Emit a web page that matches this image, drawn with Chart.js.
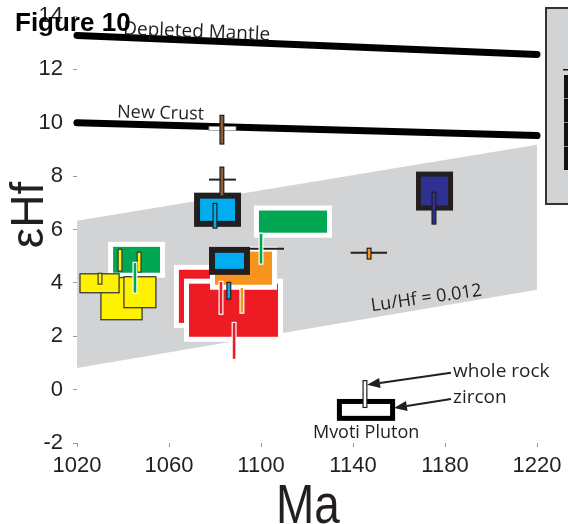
<!DOCTYPE html>
<html>
<head>
<meta charset="utf-8">
<script src="https://cdn.jsdelivr.net/npm/chart.js@4.4.1/dist/chart.umd.min.js"></script>
<style>
  html, body { margin: 0; padding: 0; background: #fff; overflow: hidden; }
  canvas { display: block; }
</style>
</head>
<body>
<canvas id="c" width="568" height="524"></canvas>
<script>
// ---- axis ticks ----
const AGE_TICKS = [1020, 1060, 1100, 1140, 1180, 1220];
const EHF_TICKS = [-2, 0, 2, 4, 6, 8, 10, 12, 14];

// ---- reference evolution lines (Ma, εHf) ----
const MODEL_AGE = [1020, 1220];
const DEPLETED_MANTLE = [13.27, 12.56];
const NEW_CRUST = [10.0, 9.52];
const LUHF_UPPER = [6.33, 9.18];
const LUHF_LOWER = [0.81, 3.74];

// ---- zircon fields, back to front: age range (Ma), εHf range ----
const zirconSuite = ['red', 'red', 'orange', 'green', 'yellow', 'yellow', 'yellow', 'green', 'cyan', 'cyan', 'navy', 'mvoti'];
const zirconAge = [[1064.3, 1095], [1068.7, 1107.4], [1080, 1104.8], [1035.7, 1056.1], [1030.4, 1048.3], [1021.3, 1038.3],
                   [1040.4, 1054.3], [1099.1, 1128.7], [1070.9, 1091.3], [1077.4, 1095.2], [1167.4, 1183.5], [1133, 1158.3]];
const zirconEhf = [[2.5, 4.49], [1.98, 3.97], [3.93, 5.17], [4.38, 5.35], [2.62, 4.2], [3.63, 4.34],
                   [3.07, 4.23], [5.88, 6.71], [6.1, 7.38], [4.3, 5.35], [6.71, 8.17], [-1.17, -0.35]];

// ---- age uncertainty bars: age range (Ma), εHf ----
const ageErrRange = [[1077.4, 1089.1], [1077.4, 1089.1], [1090.4, 1110], [1139, 1154.8]];
const ageErrEhf = [9.78, 7.87, 5.28, 5.13];

// ---- whole-rock values: age (Ma), εHf range ----
const rockSuite = ['yellow', 'yellow', 'yellow', 'greenOnField', 'cyan', 'brown', 'brown', 'redOnField', 'orangeOnField',
                   'redOnField', 'cyan', 'greenOnField', 'navy', 'orange', 'mvoti'];
const rockAge = [1030, 1038.7, 1047, 1045.2, 1080, 1083, 1083, 1082.6, 1091.7, 1088.3, 1086, 1100, 1175.2, 1147, 1145.2];
const rockEhf = [[3.93, 4.38], [4.42, 5.28], [4.38, 5.17], [3.59, 4.79], [6.03, 7.0], [9.18, 10.3], [7.23, 8.36], [2.8, 4.08],
                 [2.84, 3.85], [1.11, 2.54], [3.37, 4.04], [4.68, 5.88], [6.18, 7.42], [4.87, 5.32], [-0.69, 0.36]];

// ---- annotation anchors (Ma, εHf) ----
const LABELS = ['Depleted Mantle', 'New Crust', 'Lu/Hf = 0.012', 'whole rock', 'zircon', 'Mvoti Pluton'];
const LABEL_AGE = [1040, 1037.4, 1172.2, 1183.5, 1183.5, 1145.7];
const LABEL_EHF = [13.31, 10.2, 3.23, 0.66, -0.31, -1.62];
const ARROW_FROM = [[1182.6, 0.63], [1182.6, -0.35]];
const ARROW_TO = [[1146.1, 0.18], [1157.8, -0.69]];

// ---- styles ----
const INK = '#231f20';
const FIELD_STYLE = {
  red:    { fill: '#ed1c24', halo: 5 },
  orange: { fill: '#f7941d', halo: 5 },
  green:  { fill: '#00a651', halo: 5 },
  yellow: { fill: '#fff200', outline: '#3a3a3a' },
  cyan:   { fill: '#00aeef', frame: 6, frameColor: INK },
  navy:   { fill: '#2e3192', frame: 5, frameColor: INK },
  mvoti:  { fill: '#ffffff', frame: 5, frameColor: '#000' }
};
const BAR_STYLE = {
  yellow:        { fill: '#fff200', edge: '#3a3a3a' },
  greenOnField:  { fill: '#00a651', edge: '#ffffff' },
  cyan:          { fill: '#00aeef', edge: INK },
  brown:         { fill: '#8b5e3c', edge: INK },
  redOnField:    { fill: '#ed1c24', edge: '#ffffff' },
  orangeOnField: { fill: '#f7941d', edge: '#ffffff' },
  orange:        { fill: '#f7941d', edge: INK },
  navy:          { fill: '#2e3192', edge: INK },
  mvoti:         { fill: '#ffffff', edge: INK }
};
const ERR_STYLE = ['light', 'dark', 'dark', 'dark'];

const pts = ys => MODEL_AGE.map((a, i) => ({ x: a, y: ys[i] }));

const drawFields = {
  id: 'drawFields',
  afterDatasetsDraw(chart) {
    const { ctx, scales: { x, y } } = chart;
    const px = v => x.getPixelForValue(v);
    const py = v => y.getPixelForValue(v);
    ctx.save();

    // zircon fields
    zirconSuite.forEach((s, i) => {
      const st = FIELD_STYLE[s];
      let l = px(zirconAge[i][0]), r = px(zirconAge[i][1]);
      let t = py(zirconEhf[i][1]), b = py(zirconEhf[i][0]);
      if (st.halo) {
        ctx.fillStyle = '#ffffff';
        ctx.fillRect(l - st.halo, t - st.halo, r - l + 2 * st.halo, b - t + 2 * st.halo);
      }
      if (st.frame) {
        ctx.fillStyle = st.frameColor;
        ctx.fillRect(l, t, r - l, b - t);
        l += st.frame; r -= st.frame; t += st.frame; b -= st.frame;
      }
      ctx.fillStyle = st.fill;
      ctx.fillRect(l, t, r - l, b - t);
      if (st.outline) {
        ctx.strokeStyle = st.outline;
        ctx.lineWidth = 1.3;
        ctx.strokeRect(l, t, r - l, b - t);
      }
    });

    // age uncertainty bars
    ageErrRange.forEach((rg, i) => {
      const l = px(rg[0]), r = px(rg[1]), yy = py(ageErrEhf[i]);
      if (ERR_STYLE[i] === 'light') {
        ctx.fillStyle = '#ffffff';
        ctx.fillRect(l, yy - 2, r - l, 4);
        ctx.strokeStyle = '#9a9a9a';
        ctx.lineWidth = 0.8;
        ctx.strokeRect(l, yy - 2, r - l, 4);
      } else {
        ctx.strokeStyle = INK;
        ctx.lineWidth = 2;
        ctx.beginPath();
        ctx.moveTo(l, yy);
        ctx.lineTo(r, yy);
        ctx.stroke();
      }
    });

    // whole-rock bars
    rockSuite.forEach((s, i) => {
      const st = BAR_STYLE[s];
      const cx = px(rockAge[i]);
      const t = py(rockEhf[i][1]), b = py(rockEhf[i][0]);
      ctx.fillStyle = st.edge;
      ctx.fillRect(cx - 2.5, t, 5, b - t);
      ctx.fillStyle = st.fill;
      ctx.fillRect(cx - 1.3, t + 1.2, 2.6, b - t - 2.4);
    });

    // arrows to the legend labels
    ctx.strokeStyle = INK;
    ctx.fillStyle = INK;
    ctx.lineWidth = 2;
    ARROW_FROM.forEach((f, i) => {
      const x0 = px(f[0]), y0 = py(f[1]);
      const x1 = px(ARROW_TO[i][0]), y1 = py(ARROW_TO[i][1]);
      const ang = Math.atan2(y1 - y0, x1 - x0);
      const hl = 13, hw = 5;
      const bx = x1 - hl * Math.cos(ang), by = y1 - hl * Math.sin(ang);
      ctx.beginPath();
      ctx.moveTo(x0, y0);
      ctx.lineTo(bx, by);
      ctx.stroke();
      ctx.beginPath();
      ctx.moveTo(x1, y1);
      ctx.lineTo(bx + hw * Math.sin(ang), by - hw * Math.cos(ang));
      ctx.lineTo(bx - hw * Math.sin(ang), by + hw * Math.cos(ang));
      ctx.closePath();
      ctx.fill();
    });

    // text labels
    ctx.fillStyle = INK;
    const label = (i, size, align, base, rot) => {
      ctx.save();
      ctx.translate(px(LABEL_AGE[i]), py(LABEL_EHF[i]));
      ctx.rotate(rot * Math.PI / 180);
      ctx.font = size + 'px "Open Sans", "Noto Sans", sans-serif';
      ctx.textAlign = align;
      ctx.textBaseline = base;
      ctx.fillText(LABELS[i], 0, 0);
      ctx.restore();
    };
    label(0, 19, 'left', 'alphabetic', 2.3);
    label(1, 18, 'left', 'alphabetic', 1.5);
    label(2, 18, 'center', 'alphabetic', -8);
    label(3, 19, 'left', 'middle', 0);
    label(4, 19, 'left', 'middle', 0);
    label(5, 18, 'center', 'middle', 0);

    ctx.restore();
  },
  afterDraw(chart) {
    const { ctx, chartArea: a } = chart;
    ctx.save();
    // axis titles
    ctx.fillStyle = INK;
    ctx.textAlign = 'center';
    ctx.textBaseline = 'middle';
    ctx.save();
    ctx.translate(30, 215);
    ctx.rotate(-Math.PI / 2);
    ctx.font = '46px "Liberation Sans", Arial, sans-serif';
    ctx.fillText('εHf', 0, 0);
    ctx.restore();
    ctx.save();
    ctx.translate(308, 523);
    ctx.scale(0.82, 1);
    ctx.textBaseline = 'alphabetic';
    ctx.font = '56px "Liberation Sans", Arial, sans-serif';
    ctx.fillText('Ma', 0, 0);
    ctx.restore();

    // figure tag
    ctx.fillStyle = '#000';
    ctx.textAlign = 'left';
    ctx.textBaseline = 'alphabetic';
    ctx.font = 'bold 26px "Liberation Sans", Arial, sans-serif';
    ctx.fillText('Figure 10', 15, 31);

    // key panel at the right edge
    const kx = a.right + 9;
    ctx.fillStyle = '#d1d3d4';
    ctx.fillRect(kx, 8, 40, 196);
    ctx.strokeStyle = '#333';
    ctx.lineWidth = 2;
    ctx.strokeRect(kx, 8, 40, 196);
    ctx.fillStyle = '#111';
    ctx.fillRect(kx + 17, 69, 30, 1.5);
    ctx.fillRect(kx + 18, 75, 30, 95);
    ctx.fillStyle = '#888';
    [98, 122, 146].forEach(yy => ctx.fillRect(kx + 18, yy, 30, 1));
    ctx.restore();
  }
};

const tickFont = { family: '"Liberation Sans", Arial, sans-serif', size: 22 };

new Chart(document.getElementById('c'), {
  type: 'line',
  data: {
    datasets: [
      { data: pts(LUHF_UPPER), borderWidth: 0, pointRadius: 0, fill: false, order: 3 },
      { data: pts(LUHF_LOWER), borderWidth: 0, pointRadius: 0, fill: '-1', backgroundColor: '#d1d3d4', order: 2 },
      { data: pts(DEPLETED_MANTLE), borderColor: '#000', borderWidth: 7, borderCapStyle: 'round', pointRadius: 0, fill: false, clip: false, order: 1 },
      { data: pts(NEW_CRUST), borderColor: '#000', borderWidth: 7, borderCapStyle: 'round', pointRadius: 0, fill: false, clip: false, order: 1 }
    ]
  },
  options: {
    responsive: false,
    animation: false,
    devicePixelRatio: 1,
    layout: { padding: { top: 16, right: 31, left: 0, bottom: 0 } },
    plugins: { legend: { display: false }, tooltip: { enabled: false } },
    scales: {
      x: {
        type: 'linear',
        min: AGE_TICKS[0],
        max: AGE_TICKS[AGE_TICKS.length - 1],
        afterBuildTicks: s => { s.ticks = AGE_TICKS.map(v => ({ value: v })); },
        afterFit: s => { s.height = 81; s.paddingLeft = 0; s.paddingRight = 0; },
        border: { display: false },
        grid: { drawOnChartArea: false, drawTicks: true, tickLength: 4, color: '#9a9a9a' },
        ticks: { font: tickFont, color: INK, padding: 6, maxRotation: 0, callback: v => String(v) }
      },
      y: {
        type: 'linear',
        min: EHF_TICKS[0],
        max: EHF_TICKS[EHF_TICKS.length - 1],
        afterBuildTicks: s => { s.ticks = EHF_TICKS.map(v => ({ value: v })); },
        afterFit: s => { s.width = 77; s.paddingTop = 0; s.paddingBottom = 0; },
        border: { display: false },
        grid: { drawOnChartArea: false, drawTicks: true, tickLength: 4, color: '#9a9a9a' },
        ticks: { font: tickFont, color: INK, padding: 10, callback: v => String(v) }
      }
    }
  },
  plugins: [drawFields]
});
</script>
</body>
</html>
